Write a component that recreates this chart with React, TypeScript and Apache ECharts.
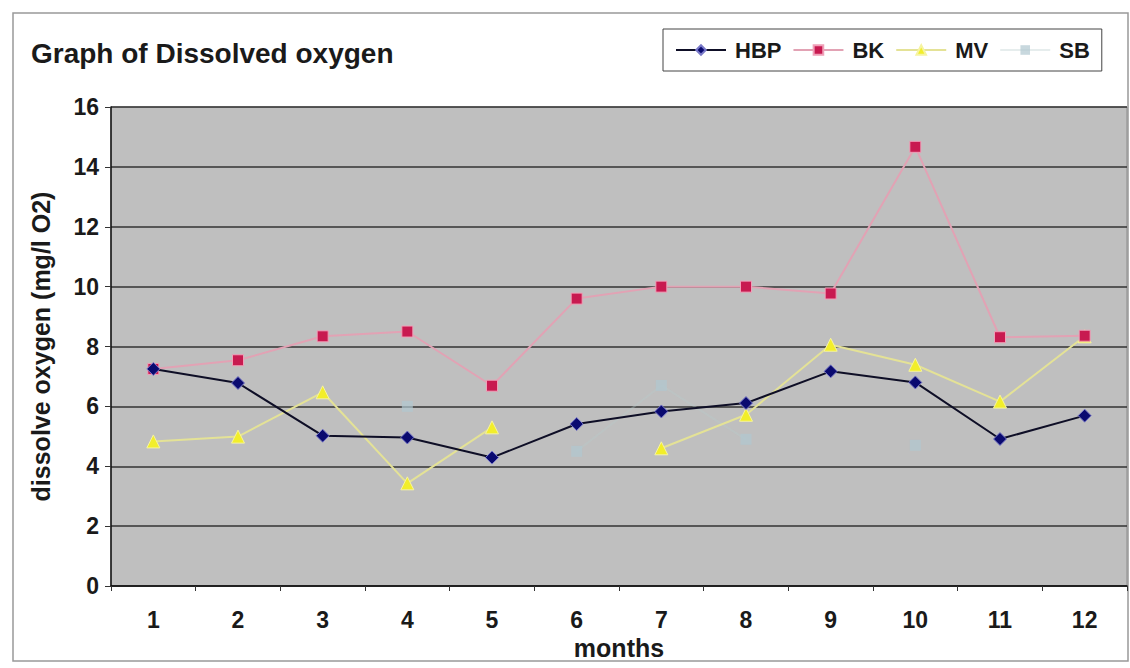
import React, { useEffect, useRef } from 'react';
import * as echarts from 'echarts';

// Monthly dissolved oxygen readings (mg/l O2) at four sampling sites
const months = ['1', '2', '3', '4', '5', '6', '7', '8', '9', '10', '11', '12'];
const hbp = [7.25, 6.78, 5.02, 4.96, 4.29, 5.41, 5.83, 6.11, 7.17, 6.8, 4.91, 5.69];
const bk = [7.25, 7.54, 8.34, 8.5, 6.69, 9.6, 10.0, 10.0, 9.77, 14.67, 8.31, 8.36];
const mv = [4.83, 4.99, 6.47, 3.43, 5.3, null, 4.6, 5.72, 8.06, 7.39, 6.16, 8.34];
const sb = [null, null, null, 6.0, null, 4.5, 6.7, 4.9, null, 4.7, null, null];

const FONT = '"Liberation Sans", Arial, sans-serif';

export default function App() {
  const ref = useRef<HTMLDivElement>(null);

  useEffect(() => {
    const chart = echarts.init(ref.current!, null, { renderer: 'svg' });
    chart.setOption({
      animation: false,
      backgroundColor: '#ffffff',
      textStyle: { fontFamily: FONT },
      title: {
        text: 'Graph of Dissolved oxygen',
        left: 31,
        top: 39,
        padding: 0,
        textStyle: { fontFamily: FONT, fontSize: 28, fontWeight: 'bold', color: '#1a1a1a' },
      },
      legend: {
        left: 663,
        top: 29,
        padding: [10, 12, 10, 12],
        itemGap: 11,
        itemWidth: 50,
        itemHeight: 12,
        borderColor: '#444',
        borderWidth: 1,
        backgroundColor: '#ffffff',
        textStyle: { fontFamily: FONT, fontSize: 22, fontWeight: 'bold', color: '#1a1a1a', padding: [0, 0, 0, 4] },
        data: ['HBP', 'BK', 'MV', 'SB'],
      },
      grid: {
        left: 111,
        right: 3,
        top: 107,
        bottom: 82,
        show: true,
        backgroundColor: '#bfbfbf',
        borderColor: '#8a8a8a',
        borderWidth: 1,
      },
      xAxis: {
        type: 'category',
        data: months,
        boundaryGap: true,
        name: 'months',
        nameLocation: 'middle',
        nameGap: 48,
        nameTextStyle: { fontFamily: FONT, fontSize: 25, fontWeight: 'bold', color: '#1a1a1a' },
        axisLine: { lineStyle: { color: '#111', width: 1.5 } },
        axisTick: { show: true, length: 5, lineStyle: { color: '#333' } },
        axisLabel: { fontFamily: FONT, fontSize: 23, fontWeight: 'bold', color: '#1a1a1a', margin: 22 },
      },
      yAxis: {
        type: 'value',
        min: 0,
        max: 16,
        interval: 2,
        name: 'dissolve oxygen (mg/l O2)',
        nameLocation: 'middle',
        nameRotate: 90,
        nameGap: 58,
        nameTextStyle: { fontFamily: FONT, fontSize: 25, fontWeight: 'bold', color: '#1a1a1a' },
        axisLine: { show: true, lineStyle: { color: '#111', width: 1.5 } },
        axisTick: { show: true, length: 6, lineStyle: { color: '#333' } },
        axisLabel: { fontFamily: FONT, fontSize: 23, fontWeight: 'bold', color: '#1a1a1a', margin: 12 },
        splitLine: { show: true, lineStyle: { color: '#333', width: 1.5 } },
      },
      series: [
        {
          name: 'HBP',
          type: 'line',
          data: hbp,
          symbol: 'diamond',
          symbolSize: 13,
          itemStyle: { color: '#0a0a70', borderColor: '#7878c8', borderWidth: 1 },
          lineStyle: { color: '#0e0e26', width: 2 },
          z: 4,
        },
        {
          name: 'BK',
          type: 'line',
          data: bk,
          symbol: 'rect',
          symbolSize: 11,
          itemStyle: { color: '#c81a50', borderColor: '#f0a0b8', borderWidth: 1 },
          lineStyle: { color: '#e2a2b4', width: 2 },
          z: 3,
        },
        {
          name: 'MV',
          type: 'line',
          data: mv,
          connectNulls: false,
          symbol: 'triangle',
          symbolSize: 13,
          itemStyle: { color: '#f2ee2a', borderColor: '#f6f4a0', borderWidth: 1 },
          lineStyle: { color: '#e4e296', width: 2 },
          z: 2,
        },
        {
          name: 'SB',
          type: 'line',
          data: sb,
          connectNulls: false,
          symbol: 'rect',
          symbolSize: 11,
          itemStyle: { color: '#b0c8d0', opacity: 0.7 },
          lineStyle: { color: '#b8cccc', width: 2, opacity: 0.35 },
          z: 1,
        },
      ],
      graphic: [
        {
          type: 'rect',
          shape: { x: 13, y: 13, width: 1115, height: 648 },
          style: { fill: 'none', stroke: '#999', lineWidth: 1.5 },
          silent: true,
          z: -1,
        },
      ],
    });
    return () => chart.dispose();
  }, []);

  return (
    <div
      ref={ref}
      style={{ position: 'absolute', left: 0, top: 0, width: 1130, height: 668, background: '#fff' }}
    />
  );
}
